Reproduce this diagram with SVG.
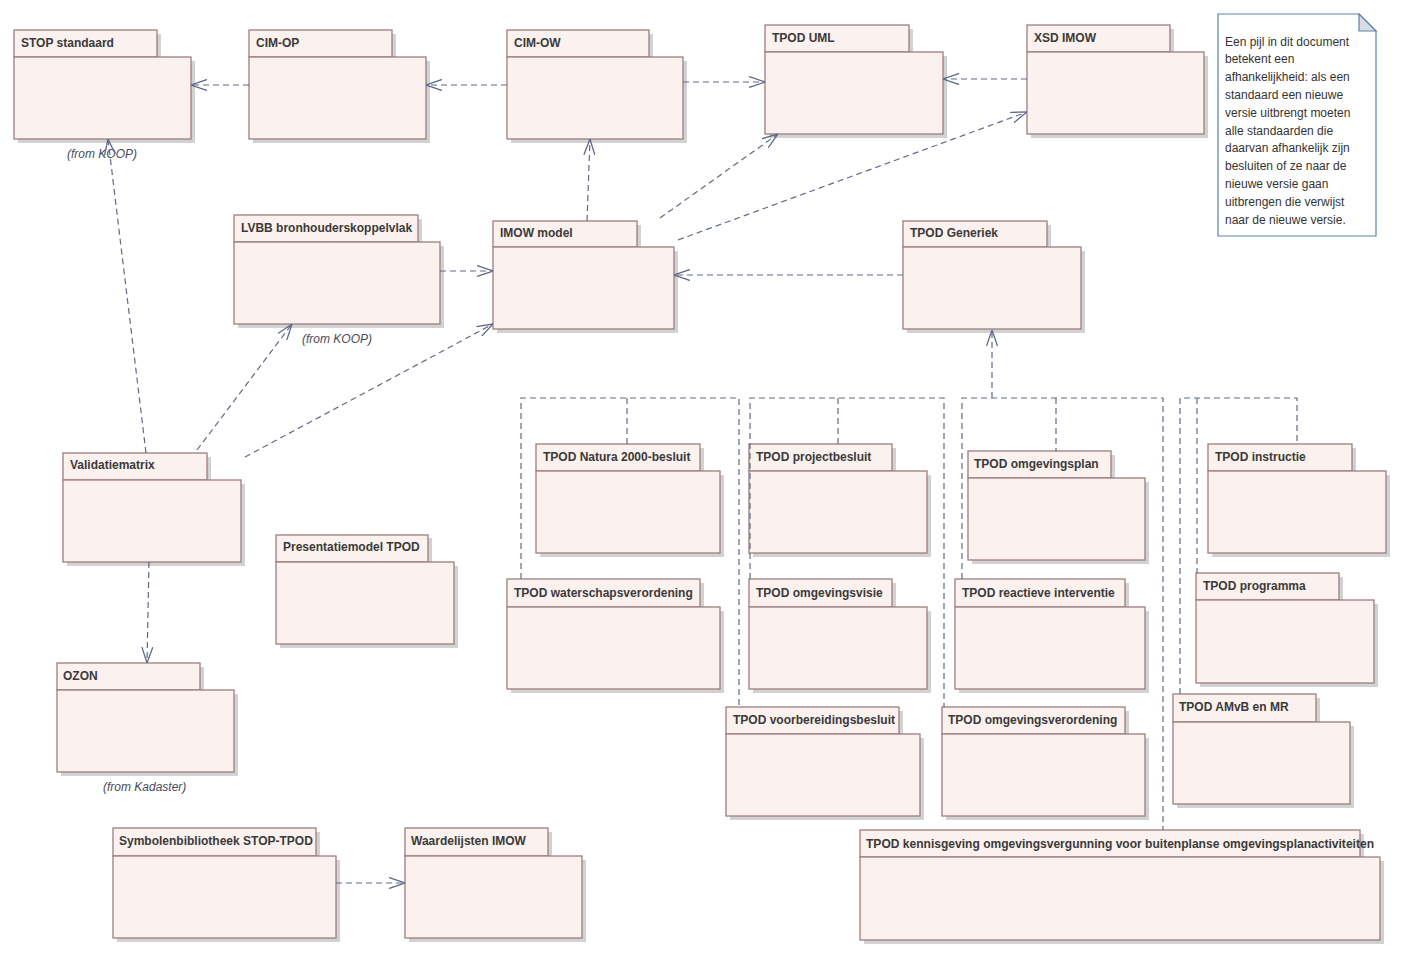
<svg xmlns="http://www.w3.org/2000/svg" width="1404" height="955" viewBox="0 0 1404 955">
<style>
.sh{fill:#d2d2d2;stroke:none}
.pk{fill:#fbf1ee;stroke:#9b7f7f;stroke-width:1.3}
.nm{font-family:"Liberation Sans",Arial,sans-serif;font-size:12px;font-weight:bold;fill:#3a3a3a}
.fr{font-family:"Liberation Sans",Arial,sans-serif;font-size:12px;font-style:italic;fill:#4a4a5a}
.nt{font-family:"Liberation Sans",Arial,sans-serif;font-size:12px;fill:#333}
.c{fill:none;stroke:#5f6a87;stroke-width:1.2;stroke-dasharray:6,4}
.ca{fill:none;stroke:#5f6a87;stroke-width:1.2;stroke-dasharray:6,4;marker-end:url(#ar)}
</style>
<defs>
<marker id="ar" viewBox="0 0 16 12" refX="16" refY="6" markerWidth="16" markerHeight="12" markerUnits="userSpaceOnUse" orient="auto">
<path d="M0,0.5 L16,6 L0,11.5" fill="none" stroke="#5f6a87" stroke-width="1.3"/>
</marker>
</defs>
<rect width="1404" height="955" fill="#ffffff"/>

<g id="stop-standaard"><rect class="sh" x="18" y="34" width="143" height="27"/><rect class="sh" x="18" y="61" width="177" height="82"/><rect class="pk" x="14" y="30" width="143" height="27"/><rect class="pk" x="14" y="57" width="177" height="82"/><text class="nm" x="21" y="47">STOP standaard</text><text class="fr" x="67" y="158">(from KOOP)</text></g>
<g id="cim-op"><rect class="sh" x="253" y="34" width="143" height="27"/><rect class="sh" x="253" y="61" width="177" height="82"/><rect class="pk" x="249" y="30" width="143" height="27"/><rect class="pk" x="249" y="57" width="177" height="82"/><text class="nm" x="256" y="47">CIM-OP</text></g>
<g id="cim-ow"><rect class="sh" x="511" y="34" width="142" height="27"/><rect class="sh" x="511" y="61" width="176" height="82"/><rect class="pk" x="507" y="30" width="142" height="27"/><rect class="pk" x="507" y="57" width="176" height="82"/><text class="nm" x="514" y="47">CIM-OW</text></g>
<g id="tpod-uml"><rect class="sh" x="769" y="29" width="144" height="27"/><rect class="sh" x="769" y="56" width="178" height="82"/><rect class="pk" x="765" y="25" width="144" height="27"/><rect class="pk" x="765" y="52" width="178" height="82"/><text class="nm" x="772" y="42">TPOD UML</text></g>
<g id="xsd-imow"><rect class="sh" x="1031" y="29" width="143" height="27"/><rect class="sh" x="1031" y="56" width="177" height="82"/><rect class="pk" x="1027" y="25" width="143" height="27"/><rect class="pk" x="1027" y="52" width="177" height="82"/><text class="nm" x="1034" y="42">XSD IMOW</text></g>

<g id="note">
<path d="M1218,14 H1359 L1376,31 V236 H1218 Z" fill="#ffffff" stroke="#5b84a8" stroke-width="1.2"/>
<path d="M1359,14 V31 H1376 Z" fill="#d9dde3" stroke="#5b84a8" stroke-width="1.2"/>
<text class="nt" x="1225" y="46">Een pijl in dit document</text>
<text class="nt" x="1225" y="63">betekent een</text>
<text class="nt" x="1225" y="81">afhankelijkheid: als een</text>
<text class="nt" x="1225" y="99">standaard een nieuwe</text>
<text class="nt" x="1225" y="117">versie uitbrengt moeten</text>
<text class="nt" x="1225" y="135">alle standaarden die</text>
<text class="nt" x="1225" y="152">daarvan afhankelijk zijn</text>
<text class="nt" x="1225" y="170">besluiten of ze naar de</text>
<text class="nt" x="1225" y="188">nieuwe versie gaan</text>
<text class="nt" x="1225" y="206">uitbrengen die verwijst</text>
<text class="nt" x="1225" y="224">naar de nieuwe versie.</text>
</g>

<g id="lvbb"><rect class="sh" x="238" y="219" width="184" height="27"/><rect class="sh" x="238" y="246" width="206" height="82"/><rect class="pk" x="234" y="215" width="184" height="27"/><rect class="pk" x="234" y="242" width="206" height="82"/><text class="nm" x="241" y="232">LVBB bronhouderskoppelvlak</text><text class="fr" x="302" y="343">(from KOOP)</text></g>
<g id="imow-model"><rect class="sh" x="497" y="225" width="144" height="26"/><rect class="sh" x="497" y="251" width="181" height="82"/><rect class="pk" x="493" y="221" width="144" height="26"/><rect class="pk" x="493" y="247" width="181" height="82"/><text class="nm" x="500" y="237">IMOW model</text></g>
<g id="tpod-generiek"><rect class="sh" x="907" y="225" width="144" height="26"/><rect class="sh" x="907" y="251" width="178" height="82"/><rect class="pk" x="903" y="221" width="144" height="26"/><rect class="pk" x="903" y="247" width="178" height="82"/><text class="nm" x="910" y="237">TPOD Generiek</text></g>
<g id="validatiematrix"><rect class="sh" x="67" y="457" width="144" height="27"/><rect class="sh" x="67" y="484" width="178" height="82"/><rect class="pk" x="63" y="453" width="144" height="27"/><rect class="pk" x="63" y="480" width="178" height="82"/><text class="nm" x="70" y="469">Validatiematrix</text></g>
<g id="presentatiemodel-tpod"><rect class="sh" x="280" y="538" width="152" height="27"/><rect class="sh" x="280" y="566" width="178" height="82"/><rect class="pk" x="276" y="535" width="152" height="27"/><rect class="pk" x="276" y="562" width="178" height="82"/><text class="nm" x="283" y="551">Presentatiemodel TPOD</text></g>
<g id="ozon"><rect class="sh" x="61" y="667" width="143" height="27"/><rect class="sh" x="61" y="694" width="177" height="82"/><rect class="pk" x="57" y="663" width="143" height="27"/><rect class="pk" x="57" y="690" width="177" height="82"/><text class="nm" x="63" y="680">OZON</text><text class="fr" x="103" y="791">(from Kadaster)</text></g>
<g id="symbolenbibliotheek"><rect class="sh" x="117" y="832" width="203" height="28"/><rect class="sh" x="117" y="860" width="223" height="82"/><rect class="pk" x="113" y="828" width="203" height="28"/><rect class="pk" x="113" y="856" width="223" height="82"/><text class="nm" x="119" y="845">Symbolenbibliotheek STOP-TPOD</text></g>
<g id="waardelijsten-imow"><rect class="sh" x="409" y="832" width="143" height="28"/><rect class="sh" x="409" y="860" width="177" height="82"/><rect class="pk" x="405" y="828" width="143" height="28"/><rect class="pk" x="405" y="856" width="177" height="82"/><text class="nm" x="411" y="845">Waardelijsten IMOW</text></g>

<g id="tpod-natura"><rect class="sh" x="540" y="448" width="164" height="27"/><rect class="sh" x="540" y="475" width="184" height="82"/><rect class="pk" x="536" y="444" width="164" height="27"/><rect class="pk" x="536" y="471" width="184" height="82"/><text class="nm" x="543" y="461">TPOD Natura 2000-besluit</text></g>
<g id="tpod-projectbesluit"><rect class="sh" x="753" y="448" width="143" height="27"/><rect class="sh" x="753" y="475" width="178" height="82"/><rect class="pk" x="749" y="444" width="143" height="27"/><rect class="pk" x="749" y="471" width="178" height="82"/><text class="nm" x="756" y="461">TPOD projectbesluit</text></g>
<g id="tpod-omgevingsplan"><rect class="sh" x="972" y="455" width="143" height="27"/><rect class="sh" x="972" y="482" width="177" height="82"/><rect class="pk" x="968" y="451" width="143" height="27"/><rect class="pk" x="968" y="478" width="177" height="82"/><text class="nm" x="974" y="468">TPOD omgevingsplan</text></g>
<g id="tpod-instructie"><rect class="sh" x="1212" y="448" width="144" height="27"/><rect class="sh" x="1212" y="475" width="178" height="82"/><rect class="pk" x="1208" y="444" width="144" height="27"/><rect class="pk" x="1208" y="471" width="178" height="82"/><text class="nm" x="1215" y="461">TPOD instructie</text></g>
<g id="tpod-waterschapsverordening"><rect class="sh" x="511" y="583" width="193" height="28"/><rect class="sh" x="511" y="611" width="213" height="82"/><rect class="pk" x="507" y="579" width="193" height="28"/><rect class="pk" x="507" y="607" width="213" height="82"/><text class="nm" x="514" y="597">TPOD waterschapsverordening</text></g>
<g id="tpod-omgevingsvisie"><rect class="sh" x="753" y="583" width="143" height="28"/><rect class="sh" x="753" y="611" width="178" height="82"/><rect class="pk" x="749" y="579" width="143" height="28"/><rect class="pk" x="749" y="607" width="178" height="82"/><text class="nm" x="756" y="597">TPOD omgevingsvisie</text></g>
<g id="tpod-reactieve-interventie"><rect class="sh" x="959" y="583" width="170" height="28"/><rect class="sh" x="959" y="611" width="190" height="82"/><rect class="pk" x="955" y="579" width="170" height="28"/><rect class="pk" x="955" y="607" width="190" height="82"/><text class="nm" x="962" y="597">TPOD reactieve interventie</text></g>
<g id="tpod-programma"><rect class="sh" x="1200" y="577" width="143" height="27"/><rect class="sh" x="1200" y="604" width="178" height="83"/><rect class="pk" x="1196" y="573" width="143" height="27"/><rect class="pk" x="1196" y="600" width="178" height="83"/><text class="nm" x="1203" y="590">TPOD programma</text></g>
<g id="tpod-voorbereidingsbesluit"><rect class="sh" x="730" y="711" width="173" height="27"/><rect class="sh" x="730" y="738" width="194" height="82"/><rect class="pk" x="726" y="707" width="173" height="27"/><rect class="pk" x="726" y="734" width="194" height="82"/><text class="nm" x="733" y="724">TPOD voorbereidingsbesluit</text></g>
<g id="tpod-omgevingsverordening"><rect class="sh" x="946" y="711" width="183" height="27"/><rect class="sh" x="946" y="738" width="203" height="82"/><rect class="pk" x="942" y="707" width="183" height="27"/><rect class="pk" x="942" y="734" width="203" height="82"/><text class="nm" x="948" y="724">TPOD omgevingsverordening</text></g>
<g id="tpod-amvb-mr"><rect class="sh" x="1177" y="698" width="143" height="28"/><rect class="sh" x="1177" y="726" width="177" height="82"/><rect class="pk" x="1173" y="694" width="143" height="28"/><rect class="pk" x="1173" y="722" width="177" height="82"/><text class="nm" x="1179" y="711">TPOD AMvB en MR</text></g>
<g id="tpod-kennisgeving"><rect class="sh" x="864" y="834" width="500" height="27"/><rect class="sh" x="864" y="861" width="520" height="83"/><rect class="pk" x="860" y="830" width="500" height="27"/><rect class="pk" x="860" y="857" width="520" height="83"/><text class="nm" x="866" y="848" textLength="508" lengthAdjust="spacingAndGlyphs">TPOD kennisgeving omgevingsvergunning voor buitenplanse omgevingsplanactiviteiten</text></g>

<g id="connectors">
<path class="ca" d="M249,85 H191"/>
<path class="ca" d="M507,85 H426"/>
<path class="ca" d="M683,82 H765"/>
<path class="ca" d="M1027,79 H943"/>
<path class="ca" d="M587,221 L590,139"/>
<path class="ca" d="M660,218 L778,134"/>
<path class="ca" d="M678,240 L1027,112"/>
<path class="ca" d="M440,271 H493"/>
<path class="ca" d="M903,275 H674"/>
<path class="ca" d="M146,453 L108,139"/>
<path class="ca" d="M197,450 L292,324"/>
<path class="ca" d="M245,457 L493,324"/>
<path class="ca" d="M149,562 L147,663"/>
<path class="ca" d="M336,883 H405"/>
<path class="ca" d="M992,398 V330"/>
<path class="c" d="M521,579 V398 H739 V707"/>
<path class="c" d="M627,398 V444"/>
<path class="c" d="M750,579 V398 H944 V707"/>
<path class="c" d="M838,398 V444"/>
<path class="c" d="M962,579 V398 H1163 V830"/>
<path class="c" d="M1056,398 V451"/>
<path class="c" d="M1180,694 V398 H1297 V444"/>
<path class="c" d="M1197,398 V573"/>
</g>
</svg>
